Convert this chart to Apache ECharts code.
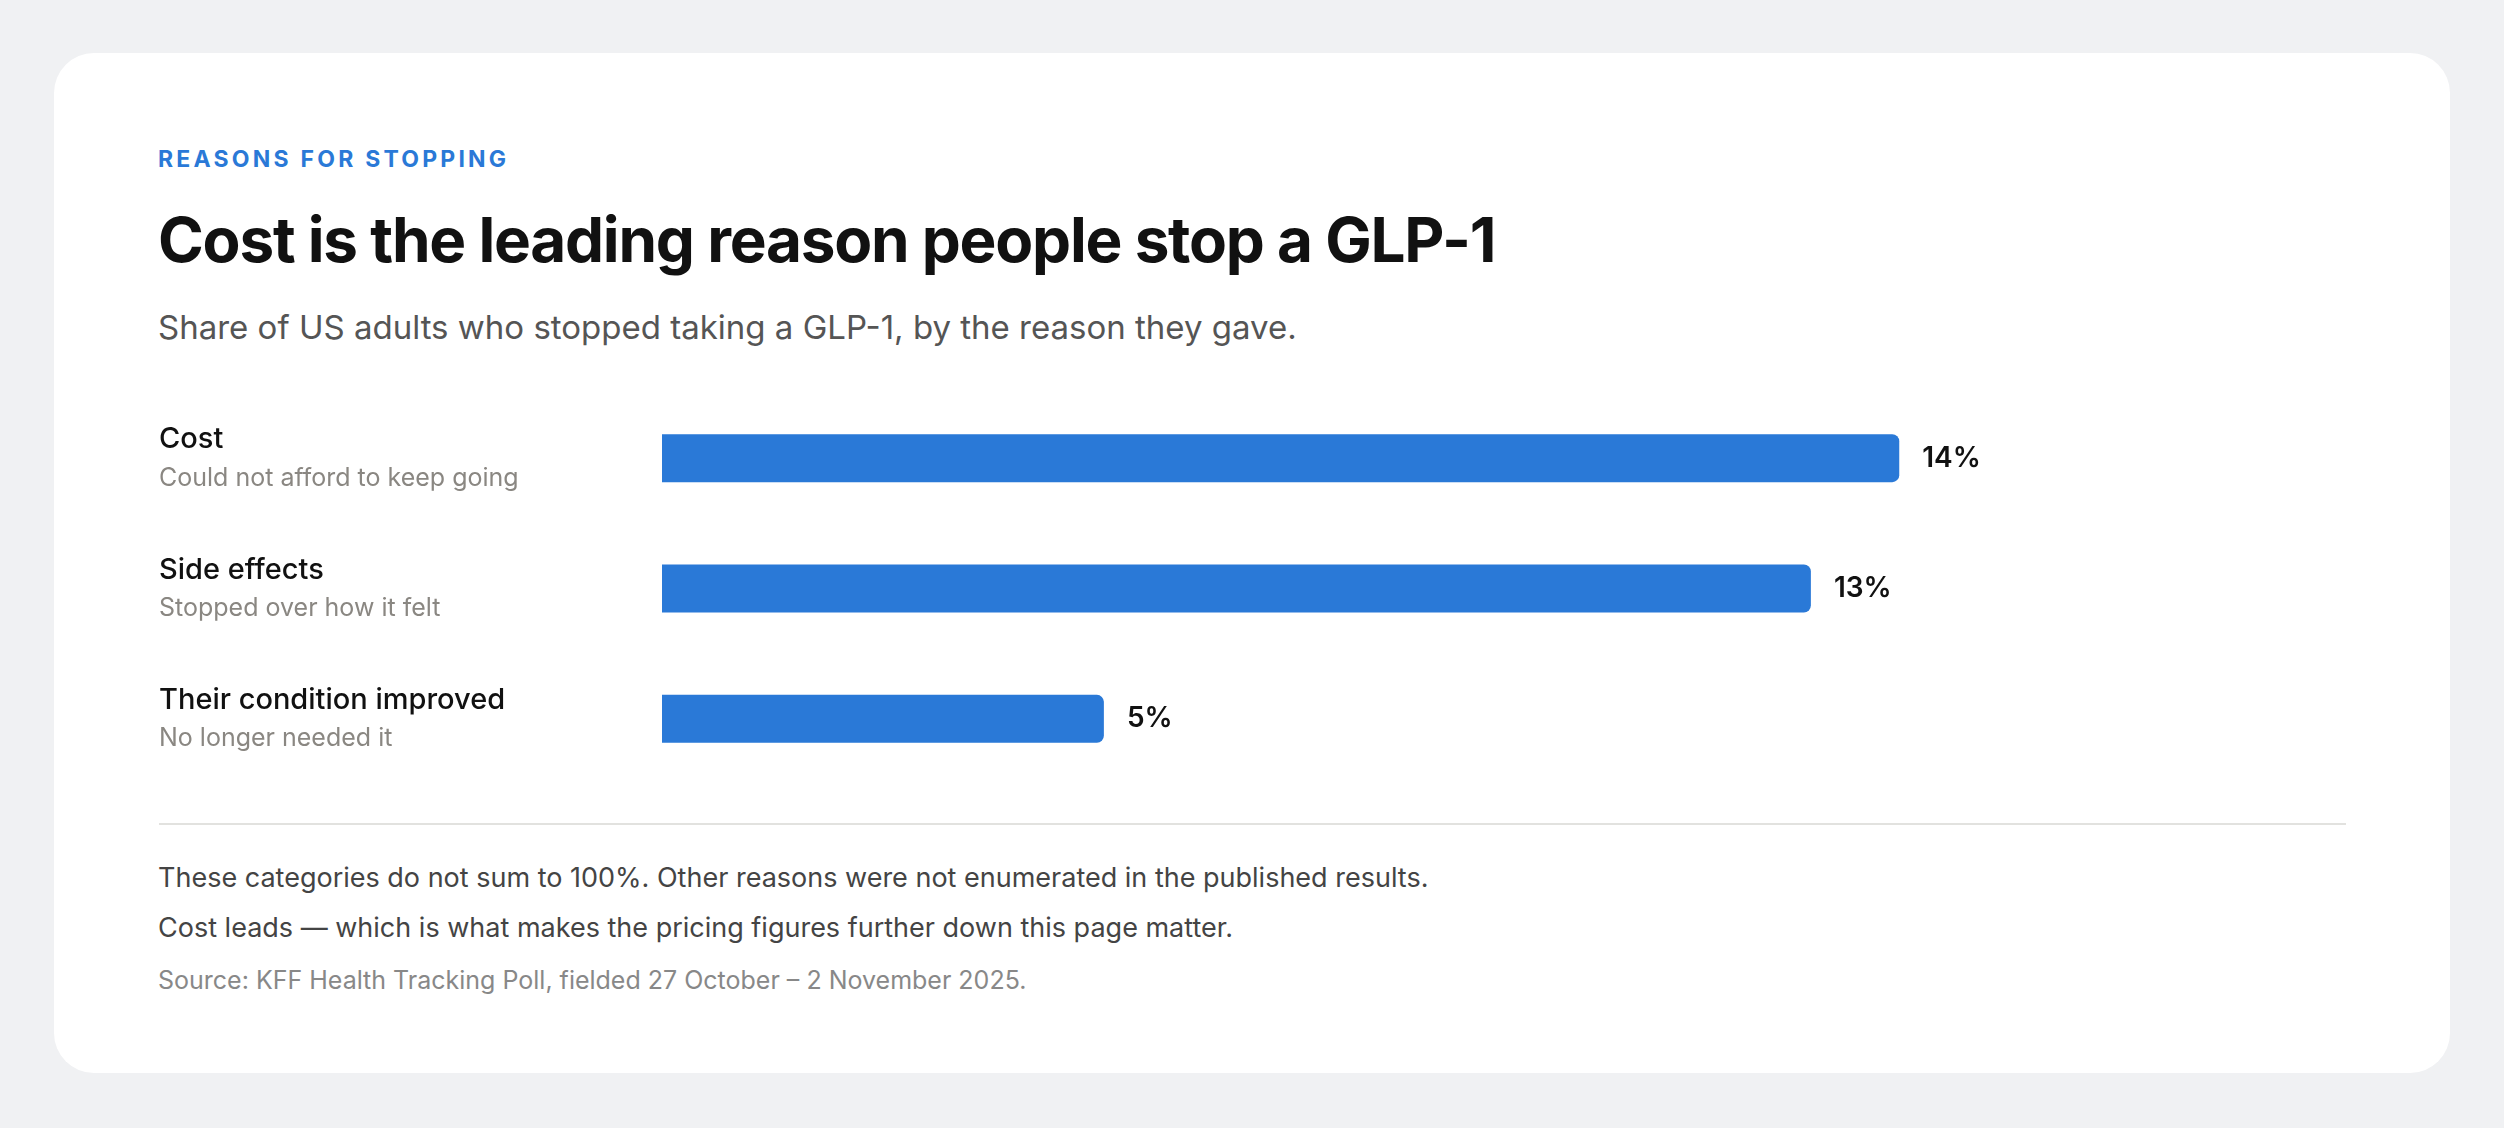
<!DOCTYPE html>
<html lang="en">
<head>
    <meta charset="UTF-8">
    <title>Reasons for stopping</title>
    <script src="https://cdn.jsdelivr.net/npm/echarts@6/dist/echarts.min.js"></script>
    <style>
        html, body {
            margin: 0;
            padding: 0;
            width: 2504px;
            height: 1128px;
            background: #f0f1f3;
            font-family: Inter, "Noto Sans", sans-serif;
            overflow: hidden;
        }
        .card {
            position: absolute;
            left: 54px;
            top: 53px;
            width: 2396px;
            height: 1020px;
            background: #fff;
            border-radius: 40px;
        }
        .txt {
            position: absolute;
            left: 158px;
            white-space: nowrap;
        }
        .eyebrow {
            top: 148px;
            font-size: 23px;
            line-height: 23px;
            font-weight: 700;
            letter-spacing: 0.14em;
            color: #2a79d7;
        }
        .title {
            top: 209px;
            font-size: 62px;
            line-height: 62px;
            font-weight: 700;
            letter-spacing: -0.02em;
            color: #111;
        }
        .sub {
            top: 311px;
            font-size: 33px;
            line-height: 33px;
            color: #555;
        }
        .rule {
            position: absolute;
            left: 159px;
            top: 823px;
            width: 2187px;
            height: 2px;
            background: #e2e2df;
        }
        .note {
            font-size: 27px;
            line-height: 27px;
            color: #444;
        }
        .source {
            top: 968px;
            font-size: 25px;
            line-height: 25px;
            color: #888;
        }
        .chart {
            position: absolute;
            left: 0;
            top: 390px;
            width: 2504px;
            height: 400px;
        }
    </style>
</head>
<body>
    <div class="card"></div>
    <div class="txt eyebrow">REASONS FOR STOPPING</div>
    <div class="txt title">Cost is the leading reason people stop a GLP-1</div>
    <div class="txt sub">Share of US adults who stopped taking a GLP-1, by the reason they gave.</div>
    <div class="chart" id="chart"></div>
    <div class="rule"></div>
    <div class="txt note" style="top: 864px;">These categories do not sum to 100%. Other reasons were not enumerated in the published results.</div>
    <div class="txt note" style="top: 914px;">Cost leads — which is what makes the pricing figures further down this page matter.</div>
    <div class="txt source">Source: KFF Health Tracking Poll, fielded 27 October – 2 November 2025.</div>

    <script>
        // 数据
        var reasons = ['Cost', 'Side effects', 'Their condition improved'];
        var details = ['Could not afford to keep going', 'Stopped over how it felt', 'No longer needed it'];
        var shares = [14, 13, 5];

        var chart = echarts.init(document.getElementById('chart'));

        var option = {
            animation: false,
            grid: {
                left: 662,
                right: 428,
                top: 3,
                bottom: 6
            },
            xAxis: {
                type: 'value',
                min: 0,
                max: 16,
                show: false
            },
            yAxis: {
                type: 'category',
                inverse: true,
                data: reasons,
                axisLine: { show: false },
                axisTick: { show: false },
                splitLine: { show: false },
                axisLabel: {
                    align: 'left',
                    margin: 503,
                    formatter: function (value, idx) {
                        return '{a|' + value + '}\n{b|' + details[idx] + '}';
                    },
                    rich: {
                        a: {
                            fontFamily: 'Inter',
                            fontSize: 29,
                            fontWeight: 500,
                            color: '#111',
                            lineHeight: 40
                        },
                        b: {
                            fontFamily: 'Inter',
                            fontSize: 25,
                            color: '#8a8782',
                            lineHeight: 37
                        }
                    }
                }
            },
            series: [{
                type: 'bar',
                data: shares,
                barWidth: 48,
                itemStyle: {
                    color: '#2a79d7',
                    borderRadius: [0, 7, 7, 0]
                },
                label: {
                    show: true,
                    position: 'right',
                    distance: 23,
                    formatter: '{c}%',
                    fontFamily: 'Inter',
                    fontSize: 28,
                    fontWeight: 600,
                    color: '#111'
                }
            }]
        };
        chart.setOption(option);
    </script>
</body>
</html>
